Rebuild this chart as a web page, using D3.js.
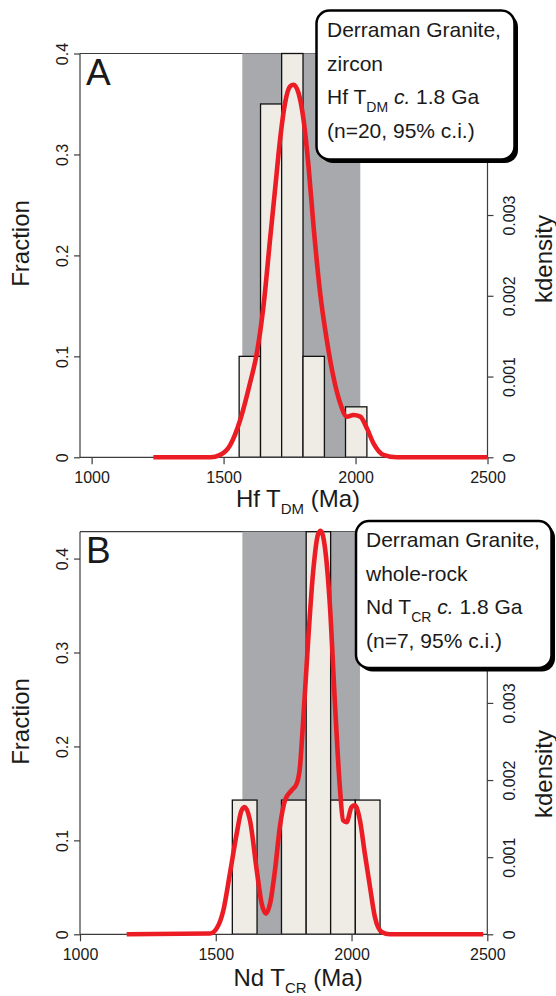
<!DOCTYPE html>
<html><head><meta charset="utf-8">
<script src="https://cdn.jsdelivr.net/npm/d3@7"></script>
<style>
body{margin:0;background:#fff;}
svg{display:block;}
text{font-family:"Liberation Sans",Arial,Helvetica,sans-serif;fill:#1a1a1a;}
</style>
</head><body>
<svg id="chart" width="556" height="996"></svg>
<script>
// ---------- data ----------
const ageTicks = [1000, 1500, 2000, 2500];
const fractionTicks = [0, 0.1, 0.2, 0.3, 0.4];
const fractionTickLabels = ["0", "0.1", "0.2", "0.3", "0.4"];
const kdensityTicks = [0, 0.001, 0.002, 0.003, 0.004, 0.005];
const kdensityTickLabels = ["0", "0.001", "0.002", "0.003", "0.004", "0.005"];

// Panel A: Hf TDM, zircon (n=20)
const hfBinEdges = [1559, 1640, 1720, 1801, 1882, 1962, 2043];
const hfFractions = [0.10, 0.35, 0.40, 0.10, 0.00, 0.05];
const hfInterval = [1571, 2018];
const hfKdeAge = [1234, 1450, 1487, 1525, 1563, 1600, 1626, 1651, 1676, 1695, 1714, 1733, 1752, 1765, 1784, 1803, 1822, 1841, 1866, 1891, 1916, 1942, 1967, 1992, 2018, 2043, 2068, 2106, 2157, 2500];
const hfKdeDensity = [0, 0, 0.00003, 0.000152, 0.000462, 0.000917, 0.001289, 0.001866, 0.002693, 0.003312, 0.003932, 0.004387, 0.004592, 0.004613, 0.004511, 0.00418, 0.003601, 0.002857, 0.002032, 0.001454, 0.000999, 0.000669, 0.000503, 0.000524, 0.000503, 0.000359, 0.000173, 0.00003, 0, 0];

// Panel B: Nd TCR, whole-rock (n=7)
const ndBinEdges = [1561, 1652, 1742, 1833, 1923, 2014, 2105];
const ndFractions = [0.1429, 0, 0.1429, 0.4286, 0.1429, 0.1429];
const ndInterval = [1598, 2031];
const ndKdeAge = [1172, 1479, 1503, 1528, 1552, 1577, 1595, 1607, 1626, 1651, 1669, 1685, 1700, 1718, 1736, 1755, 1779, 1798, 1810, 1822, 1841, 1859, 1877, 1886, 1902, 1920, 1939, 1957, 1969, 1982, 2000, 2012, 2031, 2049, 2068, 2086, 2111, 2141, 2485];
const ndKdeDensity = [0, 0.00001, 0.000074, 0.000311, 0.000786, 0.001304, 0.001606, 0.001649, 0.001477, 0.000829, 0.000398, 0.000268, 0.000398, 0.000829, 0.00139, 0.001736, 0.001865, 0.001952, 0.002167, 0.002772, 0.003851, 0.004715, 0.00519, 0.005233, 0.005017, 0.004284, 0.002988, 0.001908, 0.001477, 0.001455, 0.001649, 0.001671, 0.001477, 0.001045, 0.000613, 0.000224, 0.00003, 0, 0];

// ---------- layout ----------
const panels = [
  { label: "A", edges: hfBinEdges, fractions: hfFractions, ci: hfInterval,
    kdeX: hfKdeAge, kdeY: hfKdeDensity,
    xDomain: [956, 2500], fracMax: 0.4, kdMax: 0.005,
    left: 80, right: 487.5, top: 53.5, bottom: 457.3,
    iso: "Hf", sub: "DM",
    legend: { x: 316.5, y: 10.5, w: 198, h: 149, tx: 327, lines: [37, 71, 104, 137.5],
      l1: "Derraman Granite,", l2: "zircon", l4: "(n=20, 95% c.i.)" },
    titleY: 507, fracTitleY: 243.5, kdTitleY: 259 },
  { label: "B", edges: ndBinEdges, fractions: ndFractions, ci: ndInterval,
    kdeX: ndKdeAge, kdeY: ndKdeDensity,
    xDomain: [1000, 2500], fracMax: 0.4286, kdMax: 0.00522,
    left: 80, right: 487.3, top: 531.7, bottom: 934.3,
    iso: "Nd", sub: "CR",
    legend: { x: 356, y: 521, w: 195.5, h: 147, tx: 366, lines: [547, 580.7, 614, 648],
      l1: "Derraman Granite,", l2: "whole-rock", l4: "(n=7, 95% c.i.)" },
    titleY: 986, fracTitleY: 721.5, kdTitleY: 774 }
];

const svg = d3.select("#chart");
const axisColor = "#3c3c3c";

panels.forEach(p => {
  const g = svg.append("g");
  const x = d3.scaleLinear().domain(p.xDomain).range([p.left, p.right]);
  const yF = d3.scaleLinear().domain([0, p.fracMax]).range([p.bottom, p.top]);
  const yK = d3.scaleLinear().domain([0, p.kdMax]).range([p.bottom, p.top]);

  // top border
  g.append("line").attr("x1", p.left).attr("x2", p.right)
    .attr("y1", p.top).attr("y2", p.top)
    .attr("stroke", axisColor).attr("stroke-width", 1.2);

  // confidence interval band
  g.append("rect")
    .attr("x", x(p.ci[0])).attr("width", x(p.ci[1]) - x(p.ci[0]))
    .attr("y", yF(p.fracMax)).attr("height", yF(0) - yF(p.fracMax))
    .attr("fill", "#a7a9ac");

  // histogram bars
  const bins = p.fractions.map((f, i) => ({ x0: p.edges[i], x1: p.edges[i + 1], f }))
    .filter(b => b.f > 0);
  g.selectAll("rect.bar").data(bins).enter().append("rect")
    .attr("class", "bar")
    .attr("x", b => x(b.x0)).attr("width", b => x(b.x1) - x(b.x0))
    .attr("y", b => yF(b.f)).attr("height", b => yF(0) - yF(b.f))
    .attr("fill", "#efece6").attr("stroke", "#111").attr("stroke-width", 1.3);

  // axes
  const ax = g.append("g").attr("transform", `translate(0,${p.bottom})`)
    .call(d3.axisBottom(x).tickValues(ageTicks).tickSize(7).tickSizeOuter(0).tickFormat(d3.format("d")));
  ax.select(".domain").attr("d", `M${p.left},0H${p.right}`);
  ax.selectAll("text").attr("y", 25.5).attr("dy", 0).style("font-size", "16px")
    .style("font-family", '"Liberation Sans",Arial,sans-serif').attr("fill", "#1a1a1a");

  const ay = g.append("g").attr("transform", `translate(${p.left},0)`)
    .call(d3.axisLeft(yF).tickValues(fractionTicks).tickSize(6).tickSizeOuter(0)
      .tickFormat((d, i) => fractionTickLabels[i]));
  ay.select(".domain").attr("d", `M0,${p.top}V${p.bottom}`);
  ay.selectAll("text").attr("x", 0).attr("dy", 0).attr("text-anchor", "middle")
    .attr("transform", "translate(-12,0) rotate(-90)")
    .style("font-size", "16px").style("font-family", '"Liberation Sans",Arial,sans-serif').attr("fill", "#1a1a1a");

  const ar = g.append("g").attr("transform", `translate(${p.right},0)`)
    .call(d3.axisRight(yK).tickValues(kdensityTicks).tickSize(6).tickSizeOuter(0)
      .tickFormat((d, i) => kdensityTickLabels[i]));
  ar.select(".domain").attr("d", `M0,${p.top}V${p.bottom}`);
  ar.selectAll("text").attr("x", 0).attr("dy", 0).attr("text-anchor", "middle")
    .attr("transform", "translate(27.5,0) rotate(-90)")
    .style("font-size", "16px").style("font-family", '"Liberation Sans",Arial,sans-serif').attr("fill", "#1a1a1a");

  [ax, ay, ar].forEach(a => {
    a.selectAll("path,line").attr("stroke", axisColor).attr("stroke-width", 1.2);
  });

  // kernel density curve
  const pts = p.kdeX.map((a, i) => [a, p.kdeY[i]]);
  g.append("path").datum(pts)
    .attr("d", d3.line().x(d => x(d[0])).y(d => yK(d[1])).curve(d3.curveMonotoneX))
    .attr("fill", "none").attr("stroke", "#ec1c24").attr("stroke-width", 4.6)
    .attr("stroke-linejoin", "round").attr("stroke-linecap", "butt");

  // panel letter
  g.append("text").attr("x", p.left + 6).attr("y", p.top + (p.label === "A" ? 31.5 : 31.6))
    .style("font-size", "37px").text(p.label);

  // axis titles
  const t = g.append("text").attr("x", 298).attr("y", p.titleY)
    .attr("text-anchor", "middle").style("font-size", "24px");
  t.append("tspan").text(p.iso + " T");
  t.append("tspan").attr("dy", 7).style("font-size", "15px").text(p.sub);
  t.append("tspan").attr("dy", -7).text(" (Ma)");

  g.append("text").attr("transform", `translate(28.5,${p.fracTitleY}) rotate(-90)`)
    .attr("text-anchor", "middle").style("font-size", "24px").text("Fraction");
  g.append("text").attr("transform", `translate(551.5,${p.kdTitleY}) rotate(-90)`)
    .attr("text-anchor", "middle").style("font-size", "24px").text("kdensity");

  // legend box
  const L = p.legend;
  g.append("rect").attr("x", L.x + 3.5).attr("y", L.y + 3.5).attr("width", L.w).attr("height", L.h)
    .attr("rx", 13).attr("fill", "#000");
  g.append("rect").attr("x", L.x).attr("y", L.y).attr("width", L.w).attr("height", L.h)
    .attr("rx", 13).attr("fill", "#fff").attr("stroke", "#000").attr("stroke-width", 2.5);
  const fs = "21px";
  g.append("text").attr("x", L.tx).attr("y", L.lines[0]).style("font-size", fs).text(L.l1);
  g.append("text").attr("x", L.tx).attr("y", L.lines[1]).style("font-size", fs).text(L.l2);
  const l3 = g.append("text").attr("x", L.tx).attr("y", L.lines[2]).style("font-size", fs);
  l3.append("tspan").text(p.iso + " T");
  l3.append("tspan").attr("dy", 8).style("font-size", "14px").text(p.sub);
  l3.append("tspan").attr("dy", -8).text(" ");
  l3.append("tspan").style("font-style", "italic").text("c.");
  l3.append("tspan").text(" 1.8 Ga");
  g.append("text").attr("x", L.tx).attr("y", L.lines[3]).style("font-size", fs).text(L.l4);
});
</script>
</body></html>
